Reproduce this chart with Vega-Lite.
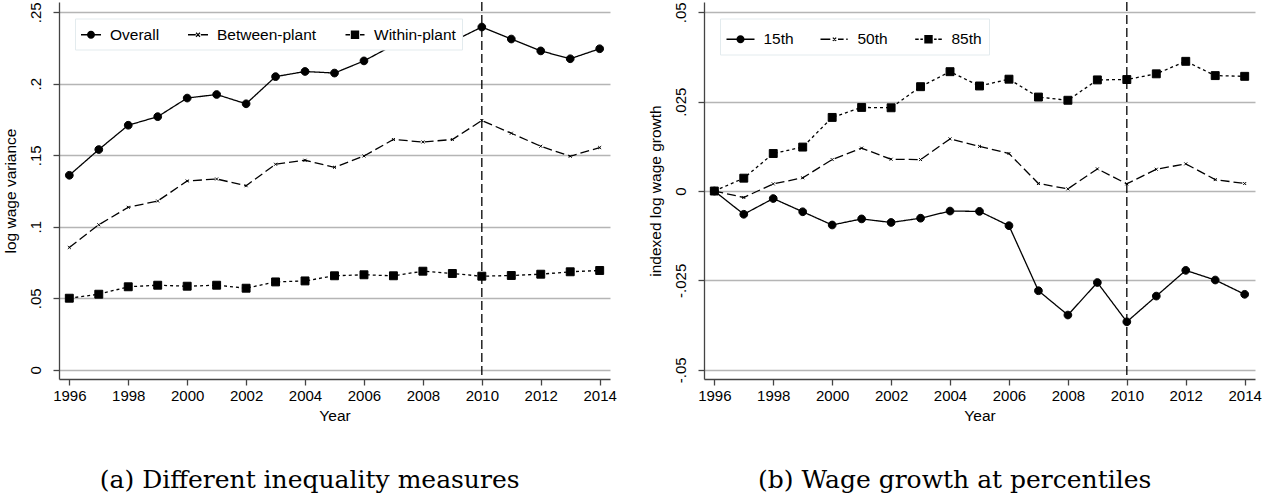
{
  "$schema": "https://vega.github.io/schema/vega-lite/v6.json",
  "padding": {"left": 3, "top": 1, "right": 0, "bottom": 0},
  "background": "white",
  "spacing": 31,
  "resolve": {"scale": {"strokeDash": "independent", "shape": "independent"}, "legend": {"strokeDash": "independent", "shape": "independent"}},
  "config": {
    "font": "Liberation Sans",
    "view": {"stroke": null},
    "axis": {"labelFont": "Liberation Sans", "labelFontSize": 15, "titleFont": "Liberation Sans", "titleFontSize": 15.5, "titleFontWeight": "normal", "labelColor": "black", "titleColor": "black", "domainColor": "#444", "tickColor": "#444", "domainWidth": 1.3, "tickWidth": 1.3, "tickSize": 6},
    "axisY": {"grid": true, "gridColor": "#b5b5b5", "gridWidth": 1.5, "labelAngle": 270, "labelAlign": "center", "labelBaseline": "bottom", "labelPadding": 10, "titlePadding": 10},
    "axisX": {"grid": false, "labelPadding": 3, "titlePadding": 5},
    "legend": {"labelFont": "Liberation Sans", "labelFontSize": 15.5, "labelColor": "black", "symbolFillColor": "black", "symbolStrokeWidth": 0, "symbolOpacity": 1},
    "title": {"font": "DejaVu Serif", "fontSize": 25, "fontWeight": "normal", "color": "black", "orient": "bottom", "anchor": "middle", "frame": "bounds", "offset": 44}
  },
  "datasets": {
    "a": [
      {"year": 1996, "Overall": 0.136, "Between-plant": 0.0855, "Within-plant": 0.050},
      {"year": 1997, "Overall": 0.154, "Between-plant": 0.1014, "Within-plant": 0.0528},
      {"year": 1998, "Overall": 0.171, "Between-plant": 0.1136, "Within-plant": 0.058},
      {"year": 1999, "Overall": 0.177, "Between-plant": 0.118, "Within-plant": 0.0591},
      {"year": 2000, "Overall": 0.190, "Between-plant": 0.132, "Within-plant": 0.0584},
      {"year": 2001, "Overall": 0.1925, "Between-plant": 0.1334, "Within-plant": 0.0591},
      {"year": 2002, "Overall": 0.186, "Between-plant": 0.1287, "Within-plant": 0.057},
      {"year": 2003, "Overall": 0.205, "Between-plant": 0.1437, "Within-plant": 0.0614},
      {"year": 2004, "Overall": 0.2086, "Between-plant": 0.1465, "Within-plant": 0.0621},
      {"year": 2005, "Overall": 0.2075, "Between-plant": 0.1416, "Within-plant": 0.0657},
      {"year": 2006, "Overall": 0.216, "Between-plant": 0.1495, "Within-plant": 0.0664},
      {"year": 2007, "Overall": 0.227, "Between-plant": 0.161, "Within-plant": 0.0657},
      {"year": 2008, "Overall": 0.230, "Between-plant": 0.1593, "Within-plant": 0.0689},
      {"year": 2009, "Overall": 0.2295, "Between-plant": 0.161, "Within-plant": 0.0673},
      {"year": 2010, "Overall": 0.2397, "Between-plant": 0.1743, "Within-plant": 0.0654},
      {"year": 2011, "Overall": 0.2313, "Between-plant": 0.1654, "Within-plant": 0.0659},
      {"year": 2012, "Overall": 0.223, "Between-plant": 0.1563, "Within-plant": 0.0668},
      {"year": 2013, "Overall": 0.2175, "Between-plant": 0.1493, "Within-plant": 0.0685},
      {"year": 2014, "Overall": 0.2245, "Between-plant": 0.1554, "Within-plant": 0.0694}
    ],
    "b": [
      {"year": 1996, "15th": 0, "50th": 0, "85th": 0},
      {"year": 1997, "15th": -0.0065, "50th": -0.0018, "85th": 0.0036},
      {"year": 1998, "15th": -0.0021, "50th": 0.002, "85th": 0.0105},
      {"year": 1999, "15th": -0.0058, "50th": 0.0037, "85th": 0.0123},
      {"year": 2000, "15th": -0.0095, "50th": 0.0088, "85th": 0.0206},
      {"year": 2001, "15th": -0.0078, "50th": 0.012, "85th": 0.0234},
      {"year": 2002, "15th": -0.0088, "50th": 0.0089, "85th": 0.0233},
      {"year": 2003, "15th": -0.0076, "50th": 0.0088, "85th": 0.0292},
      {"year": 2004, "15th": -0.0056, "50th": 0.0146, "85th": 0.0334},
      {"year": 2005, "15th": -0.0057, "50th": 0.0125, "85th": 0.0294},
      {"year": 2006, "15th": -0.0097, "50th": 0.0105, "85th": 0.0313},
      {"year": 2007, "15th": -0.0279, "50th": 0.0021, "85th": 0.0263},
      {"year": 2008, "15th": -0.0347, "50th": 0.0006, "85th": 0.0254},
      {"year": 2009, "15th": -0.0256, "50th": 0.0062, "85th": 0.0311},
      {"year": 2010, "15th": -0.0366, "50th": 0.002, "85th": 0.0312},
      {"year": 2011, "15th": -0.0294, "50th": 0.0061, "85th": 0.0328},
      {"year": 2012, "15th": -0.0222, "50th": 0.0076, "85th": 0.0363},
      {"year": 2013, "15th": -0.0249, "50th": 0.0032, "85th": 0.0323},
      {"year": 2014, "15th": -0.0289, "50th": 0.0021, "85th": 0.0321}
    ],
    "legA": [{"leg": "Overall"}, {"leg": "Between-plant"}, {"leg": "Within-plant"}],
    "legB": [{"leg": "15th"}, {"leg": "50th"}, {"leg": "85th"}],
    "ref": [{"year": 2010}]
  },
  "hconcat": [
    {
      "width": 551,
      "height": 377,
      "title": {"text": "(a) Different inequality measures"},
      "resolve": {"scale": {"shape": "independent"}},
      "layer": [
        {
          "data": {"name": "ref"},
          "mark": {"type": "rule", "color": "black", "strokeDash": [9, 4], "strokeWidth": 1.3},
          "encoding": {"x": {"field": "year", "type": "quantitative", "scale": {"domain": [1995.65, 2014.35], "nice": false, "zero": false}}}
        },
        {
          "data": {"name": "a"},
          "transform": [{"fold": ["Overall", "Between-plant", "Within-plant"], "as": ["series", "value"]}],
          "mark": {"type": "line", "color": "black", "strokeWidth": 1.3},
          "encoding": {
            "x": {"field": "year", "type": "quantitative", "scale": {"domain": [1995.65, 2014.35], "nice": false, "zero": false}, "axis": {"values": [1996, 1998, 2000, 2002, 2004, 2006, 2008, 2010, 2012, 2014], "format": "d", "title": "Year"}},
            "y": {"field": "value", "type": "quantitative", "scale": {"domain": [-0.0065, 0.2572], "nice": false, "zero": false}, "axis": {"values": [0, 0.05, 0.1, 0.15, 0.2, 0.25], "title": "log wage variance", "labelExpr": "(datum.value < 0 ? '-' : '') + replace(format(abs(datum.value), '.3~f'), '0.', '.')"}},
            "strokeDash": {"field": "series", "type": "nominal", "scale": {"domain": ["Overall", "Between-plant", "Within-plant"], "range": [[1, 0], [9, 4], [3, 3]]}, "legend": null}
          }
        },
        {
          "data": {"name": "a"},
          "transform": [{"fold": ["Overall", "Between-plant", "Within-plant"], "as": ["marker", "value"]}],
          "mark": {"type": "point", "filled": true, "fill": "black", "stroke": "black", "strokeWidth": 1, "opacity": 1, "size": 81},
          "encoding": {
            "x": {"field": "year", "type": "quantitative"},
            "y": {"field": "value", "type": "quantitative"},
            "shape": {"field": "marker", "type": "nominal", "scale": {"domain": ["Overall", "Between-plant", "Within-plant"], "range": ["M0.86,0A0.86,0.86,0,1,1,-0.86,0A0.86,0.86,0,1,1,0.86,0Z", "M-0.33,-0.33L0.33,0.33M-0.33,0.33L0.33,-0.33", "M-0.88,-0.88L0.88,-0.88L0.88,0.88L-0.88,0.88Z"]}, "legend": null}
          }
        },
        {
          "data": {"name": "legA"},
          "mark": {"type": "point", "filled": true, "fill": "black", "invalid": "filter"},
          "encoding": {
            "x": {"field": "year", "type": "quantitative"},
            "y": {"field": "value", "type": "quantitative"},
            "shape": {
              "field": "leg", "type": "nominal",
              "scale": {"domain": ["Overall", "Between-plant", "Within-plant"], "range": [
                "M-1,-0.065L1,-0.065L1,0.065L-1,0.065ZM0.4,0A0.4,0.4,0,1,1,-0.4,0A0.4,0.4,0,1,1,0.4,0Z",
                "M-1,-0.065L-0.22,-0.065L-0.22,0.065L-1,0.065ZM0.28,-0.065L1,-0.065L1,0.065L0.28,0.065ZM-0.24,-0.16L-0.16,-0.24L0.24,0.16L0.16,0.24ZM-0.24,0.16L0.16,-0.24L0.24,-0.16L-0.16,0.24Z",
                "M-0.95,-0.065L-0.5,-0.065L-0.5,0.065L-0.95,0.065ZM0.5,-0.065L0.95,-0.065L0.95,0.065L0.5,0.065ZM-0.42,-0.42L0.42,-0.42L0.42,0.42L-0.42,0.42Z"
              ]},
              "legend": {
                "orient": "none", "legendX": 16, "legendY": 16.5, "direction": "horizontal", "title": null,
                "fillColor": "white", "strokeColor": "#e3ebee", "padding": 6,
                "symbolSize": 400, "labelOffset": 9, "columnPadding": 28
              }
            }
          }
        }
      ]
    },
    {
      "width": 551,
      "height": 377,
      "title": {"text": "(b) Wage growth at percentiles"},
      "resolve": {"scale": {"shape": "independent"}},
      "layer": [
        {
          "data": {"name": "ref"},
          "mark": {"type": "rule", "color": "black", "strokeDash": [9, 4], "strokeWidth": 1.3},
          "encoding": {"x": {"field": "year", "type": "quantitative", "scale": {"domain": [1995.65, 2014.35], "nice": false, "zero": false}}}
        },
        {
          "data": {"name": "b"},
          "transform": [{"fold": ["15th", "50th", "85th"], "as": ["series", "value"]}],
          "mark": {"type": "line", "color": "black", "strokeWidth": 1.3},
          "encoding": {
            "x": {"field": "year", "type": "quantitative", "scale": {"domain": [1995.65, 2014.35], "nice": false, "zero": false}, "axis": {"values": [1996, 1998, 2000, 2002, 2004, 2006, 2008, 2010, 2012, 2014], "format": "d", "title": "Year"}},
            "y": {"field": "value", "type": "quantitative", "scale": {"domain": [-0.0526, 0.0529], "nice": false, "zero": false}, "axis": {"values": [-0.05, -0.025, 0, 0.025, 0.05], "title": "indexed log wage growth", "labelExpr": "(datum.value < 0 ? '-' : '') + replace(format(abs(datum.value), '.3~f'), '0.', '.')"}},
            "strokeDash": {"field": "series", "type": "nominal", "scale": {"domain": ["15th", "50th", "85th"], "range": [[1, 0], [9, 4], [3, 3]]}, "legend": null}
          }
        },
        {
          "data": {"name": "b"},
          "transform": [{"fold": ["15th", "50th", "85th"], "as": ["marker", "value"]}],
          "mark": {"type": "point", "filled": true, "fill": "black", "stroke": "black", "strokeWidth": 1, "opacity": 1, "size": 81},
          "encoding": {
            "x": {"field": "year", "type": "quantitative"},
            "y": {"field": "value", "type": "quantitative"},
            "shape": {"field": "marker", "type": "nominal", "scale": {"domain": ["15th", "50th", "85th"], "range": ["M0.86,0A0.86,0.86,0,1,1,-0.86,0A0.86,0.86,0,1,1,0.86,0Z", "M-0.33,-0.33L0.33,0.33M-0.33,0.33L0.33,-0.33", "M-0.88,-0.88L0.88,-0.88L0.88,0.88L-0.88,0.88Z"]}, "legend": null}
          }
        },
        {
          "data": {"name": "legB"},
          "mark": {"type": "point", "filled": true, "fill": "black", "invalid": "filter"},
          "encoding": {
            "x": {"field": "year", "type": "quantitative"},
            "y": {"field": "value", "type": "quantitative"},
            "shape": {
              "field": "leg", "type": "nominal",
              "scale": {"domain": ["15th", "50th", "85th"], "range": [
                "M-1,-0.05L1,-0.05L1,0.05L-1,0.05ZM0.29,0A0.29,0.29,0,1,1,-0.29,0A0.29,0.29,0,1,1,0.29,0Z",
                "M-1,-0.05L-0.3,-0.05L-0.3,0.05L-1,0.05ZM0.25,-0.05L0.65,-0.05L0.65,0.05L0.25,0.05ZM0.84,-0.05L0.94,-0.05L0.94,0.05L0.84,0.05ZM-0.15,-0.09L-0.09,-0.15L0.15,0.09L0.09,0.15ZM-0.15,0.09L0.09,-0.15L0.15,-0.09L-0.09,0.15Z",
                "M-0.95,-0.05L-0.7,-0.05L-0.7,0.05L-0.95,0.05ZM-0.58,-0.05L-0.4,-0.05L-0.4,0.05L-0.58,0.05ZM0.4,-0.05L0.58,-0.05L0.58,0.05L0.4,0.05ZM0.7,-0.05L0.95,-0.05L0.95,0.05L0.7,0.05ZM-0.3,-0.3L0.3,-0.3L0.3,0.3L-0.3,0.3Z"
              ]},
              "legend": {
                "orient": "none", "legendX": 16, "legendY": 16.5, "direction": "horizontal", "title": null,
                "fillColor": "white", "strokeColor": "#e3ebee", "padding": 6.5,
                "symbolSize": 784, "labelOffset": 9, "columnPadding": 26
              }
            }
          }
        }
      ]
    }
  ]
}
